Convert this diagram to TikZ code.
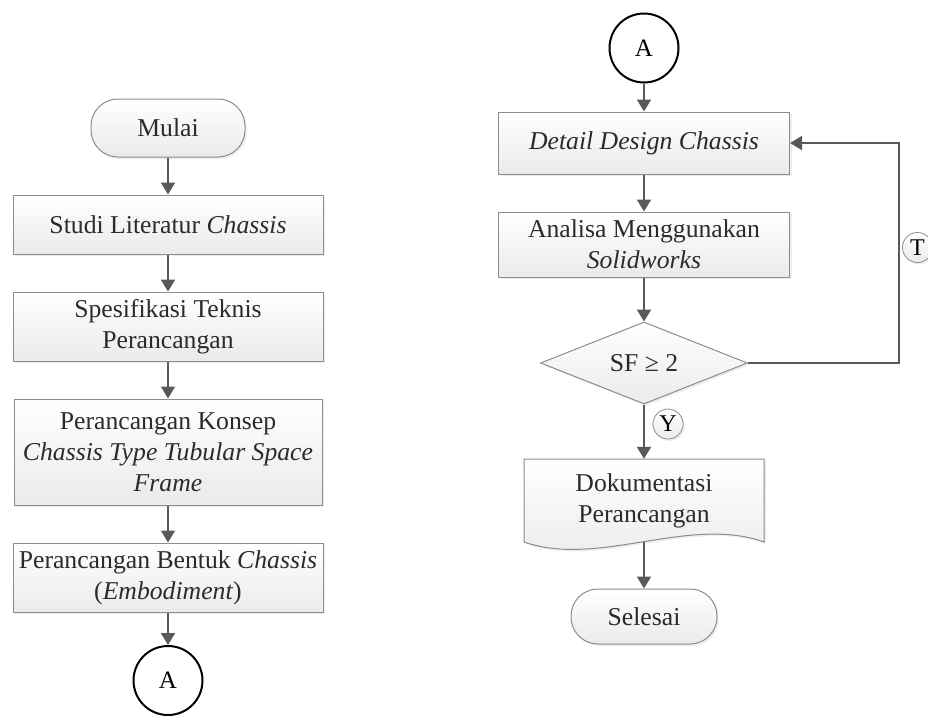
\documentclass[tikz,border=0pt]{standalone}
\usepackage{fontspec}
\setmainfont{Liberation Serif}
\usetikzlibrary{arrows.meta,shapes.geometric,shadows}
\definecolor{linegray}{HTML}{595959}
\definecolor{edgegray}{HTML}{8C8C8C}
\definecolor{textgray}{HTML}{2B2B2B}
\def\boxfont{\fontsize{25.7}{31}\selectfont}
\tikzset{
	proc/.style={draw=edgegray, line width=1pt, top color=white, bottom color=black!8,
		drop shadow={shadow xshift=2pt, shadow yshift=-2pt, fill=black!13},
		text=textgray, align=center, inner sep=0pt, font=\boxfont},
	term/.style={proc, rounded corners=27pt},
	cond/.style={proc, diamond, aspect=2.5},
	conn/.style={circle, draw=black, line width=2pt, fill=white, minimum size=69pt,
		inner sep=0pt, text=black, font=\fontsize{25}{28}\selectfont},
	tag/.style={proc, circle, line width=0.8pt, minimum size=30pt, text=black,
		font=\fontsize{24}{26}\selectfont},
	flow/.style={draw=linegray, line width=2pt, -{Triangle[width=14pt,length=12pt]}},
}

\begin{document}
\begin{tikzpicture}[x=1pt, y=-1pt]
		%%%%% START %%%%%
		\useasboundingbox (0, 0) rectangle (928, 715);
		
		% left column
		\node[term, minimum width=154pt, minimum height=58pt] (mulai) at (168, 128) {Mulai};
		\node[proc, minimum width=310pt, minimum height=59pt] (studi) at (168, 224.5) {Studi Literatur \textit{Chassis}};
		\node[proc, minimum width=310pt, minimum height=69pt] (spek) at (168, 326.5) {Spesifikasi Teknis\\Perancangan};
		\node[proc, minimum width=308pt, minimum height=106pt] (konsep) at (168, 452) {Perancangan Konsep\\\textit{Chassis Type Tubular Space}\\\textit{Frame}};
		\node[proc, minimum width=310pt, minimum height=69pt] (bentuk) at (168, 577.5) {Perancangan Bentuk \textit{Chassis}\\(\textit{Embodiment})};
		\node[conn] (kiriA) at (168, 680.5) {A};
		
		\draw[flow] (mulai) -- (studi);
		\draw[flow] (studi) -- (spek);
		\draw[flow] (spek) -- (konsep);
		\draw[flow] (konsep) -- (bentuk);
		\draw[flow] (bentuk) -- (kiriA);
		
		% right column
		\node[conn] (kananA) at (644, 48) {A};
		\node[proc, minimum width=291pt, minimum height=62pt] (detail) at (644, 143) {\textit{Detail Design Chassis}};
		\node[proc, minimum width=291pt, minimum height=65pt] (analisa) at (644, 244.5) {Analisa Menggunakan\\\textit{Solidworks}};
		\node[cond, minimum width=207pt, minimum height=82pt] (cek) at (644, 363) {SF ≥ 2};
		
		\path[draw=edgegray, line width=1pt, top color=white, bottom color=black!8,
			drop shadow={shadow xshift=2pt, shadow yshift=-2pt, fill=black!13}]
			(524, 459) -- (764, 459) -- (764, 542)
			.. controls (689, 515) and (599, 568) .. (524, 542) -- cycle;
		\node[text=textgray, align=center, font=\boxfont, minimum width=240pt, minimum height=83pt, inner sep=0pt] (dok) at (644, 500.5) {Dokumentasi\\Perancangan};
		\node[term, minimum width=146pt, minimum height=55pt] (selesai) at (644, 616.5) {Selesai};
		
		\coordinate (balik) at (899, 143);
		\draw[flow] (kananA) -- (detail);
		\draw[flow] (detail) -- (analisa);
		\draw[flow] (analisa) -- (cek);
		\draw[flow] (cek.south) -- (dok.north);
		\draw[flow] (dok.south) -- (selesai);
		\draw[flow] (cek.east) -| (balik) -- (detail.east);
		
		\node[tag] (ya) at (668, 424) {Y};
		\node[tag] (tidak) at (917.5, 247.5) {T};
		%%%%% END %%%%%
\end{tikzpicture}
\end{document}
